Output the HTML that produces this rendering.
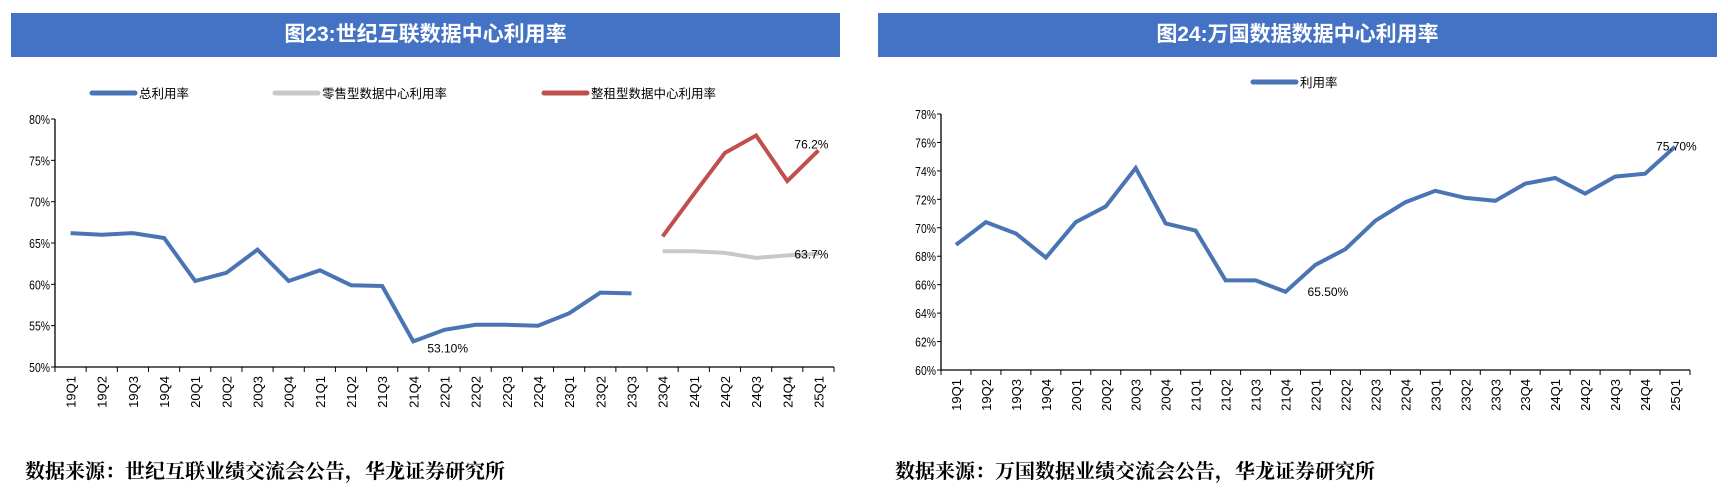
<!DOCTYPE html>
<html><head><meta charset="utf-8"><style>
html,body{margin:0;padding:0;background:#fff;}
body{width:1728px;height:500px;overflow:hidden;position:relative;font-family:"Liberation Sans","Noto Sans CJK SC",sans-serif;}
.bar{position:absolute;top:13px;height:44px;background:#4472c4;color:#fff;font-weight:bold;font-size:21px;text-align:center;line-height:44px;font-family:"Liberation Sans","Noto Sans CJK SC",sans-serif;}
.src{position:absolute;top:455px;font-size:20px;font-weight:bold;font-family:"Liberation Serif","Noto Serif CJK SC",serif;color:#000;}
svg{position:absolute;left:0;top:0;}
</style></head><body>
<div class="bar" style="left:11px;width:829px;">图23:世纪互联数据中心利用率</div>
<div class="bar" style="left:878px;width:839px;">图24:万国数据数据中心利用率</div>
<div class="src" style="left:25px;">数据来源：世纪互联业绩交流会公告，华龙证券研究所</div>
<div class="src" style="left:895px;">数据来源：万国数据业绩交流会公告，华龙证券研究所</div>
<svg id="svg" width="1728" height="500"></svg>
<script>
const categories=["19Q1","19Q2","19Q3","19Q4","20Q1","20Q2","20Q3","20Q4","21Q1","21Q2","21Q3","21Q4","22Q1","22Q2","22Q3","22Q4","23Q1","23Q2","23Q3","23Q4","24Q1","24Q2","24Q3","24Q4","25Q1"];
const totalRate=[66.2,66.0,66.2,65.6,60.4,61.4,64.2,60.4,61.7,59.9,59.8,53.1,54.5,55.1,55.1,55.0,56.5,59.0,58.9,null,null,null,null,null,null];
const retailRate=[null,null,null,null,null,null,null,null,null,null,null,null,null,null,null,null,null,null,null,64.0,64.0,63.8,63.2,63.5,63.7];
const wholesaleRate=[null,null,null,null,null,null,null,null,null,null,null,null,null,null,null,null,null,null,null,65.8,70.9,75.9,78.0,72.5,76.2];
const gdsRate=[68.8,70.4,69.6,67.9,70.4,71.5,74.2,70.3,69.8,66.3,66.3,65.5,67.4,68.5,70.5,71.8,72.6,72.1,71.9,73.1,73.5,72.4,73.6,73.8,75.7];
const ticks23=[50,55,60,65,70,75,80];
const ticks24=[60,62,64,66,68,70,72,74,76,78];

const NS="http://www.w3.org/2000/svg";
const svg=document.getElementById('svg');
function mk(tag,attrs,parent){const e=document.createElementNS(NS,tag);for(const k in attrs)e.setAttribute(k,attrs[k]);(parent||svg).appendChild(e);return e;}

function drawChart(cfg){
  const {x0,x1,yTop,yBot,vmin,vmax,ticks,series,labels,prefix}=cfg;
  const g=mk('g',{});
  
  
  const n=categories.length, w=(x1-x0)/n;
  const xs=i=>x0+w*(i+0.5);
  const ys=v=>yBot-(v-vmin)/(vmax-vmin)*(yBot-yTop);
  const ya=mk('line',{x1:x0,y1:yTop,x2:x0,y2:yBot,stroke:'#000','stroke-width':1.3},g);
  
  
  ticks.forEach(t=>{
    const y=ys(t);
    mk('line',{x1:x0-4,y1:y,x2:x0,y2:y,stroke:'#000','stroke-width':1},g);
    const tx=mk('text',{x:x0-5,y:y+5,'text-anchor':'end','font-size':13,fill:'#000',transform:`translate(${x0-5},0) scale(0.8,1) translate(${-(x0-5)},0)`},g);
    tx.textContent=t+'%';
    
    
  });
  const xa=mk('line',{x1:x0,y1:yBot,x2:x1,y2:yBot,stroke:'#000','stroke-width':1.3},g);
  
  
  for(let i=0;i<=n;i++){mk('line',{x1:x0+w*i,y1:yBot,x2:x0+w*i,y2:yBot+5,stroke:'#000','stroke-width':1},g);}
  categories.forEach((c,i)=>{
    const x=xs(i)+5,y=yBot+9;
    const tx=mk('text',{x:x,y:y,'text-anchor':'end','font-size':13,fill:'#000',transform:`rotate(-90 ${x} ${y})`},g);
    tx.textContent=c;
    
    
  });
  series.forEach(s=>{
    let d='',pen=false;
    s.data.forEach((v,i)=>{if(v==null){pen=false;return;}d+=(pen?'L':'M')+xs(i).toFixed(1)+' '+ys(v).toFixed(1);pen=true;});
    const p=mk('path',{d:d,fill:'none',stroke:s.color,'stroke-width':4,'stroke-linejoin':'miter'},g);
    
    
  });
  labels.forEach(l=>{
    const tx=mk('text',{x:xs(l.i)+l.dx,y:ys(l.v)+l.dy,'font-size':12,fill:'#000'},g);
    tx.textContent=l.text;
    
    
  });
}
function legend(x,y,color,text,name){
  const l=mk('line',{x1:x,y1:y,x2:x+43,y2:y,stroke:color,'stroke-width':5,'stroke-linecap':'round'});
  
  
  const t=mk('text',{x:x+47,y:y+5,'font-size':12.5,fill:'#000'});
  t.textContent=text;
  
  
}
legend(92,93,'#4a74b4','总利用率','legend-total');
legend(275,93,'#c8c8c8','零售型数据中心利用率','legend-retail');
legend(544,93,'#c0504d','整租型数据中心利用率','legend-wholesale');
legend(1253,82,'#4a74b4','利用率','legend-utilization');

drawChart({x0:55,x1:834,yTop:119,yBot:367,vmin:50,vmax:80,ticks:ticks23,prefix:'chart23',
 series:[{data:totalRate,color:'#4a74b4',name:'total-rate-line'},{data:retailRate,color:'#c8c8c8',name:'retail-rate-line'},{data:wholesaleRate,color:'#c0504d',name:'wholesale-rate-line'}],
 labels:[{i:11,v:totalRate[11],dx:14,dy:11,text:totalRate[11].toFixed(2)+'%'},{i:24,v:wholesaleRate[24],dx:-24,dy:-2,text:wholesaleRate[24]+'%'},{i:24,v:retailRate[24],dx:-24,dy:5,text:retailRate[24]+'%'}]});
drawChart({x0:941,x1:1690,yTop:114,yBot:370,vmin:60,vmax:78,ticks:ticks24,prefix:'chart24',
 series:[{data:gdsRate,color:'#4a74b4',name:'gds-rate-line'}],
 labels:[{i:11,v:gdsRate[11],dx:22,dy:4,text:gdsRate[11].toFixed(2)+'%'},{i:24,v:gdsRate[24],dx:-19,dy:4,text:gdsRate[24].toFixed(2)+'%'}]});
</script>
</body></html>
